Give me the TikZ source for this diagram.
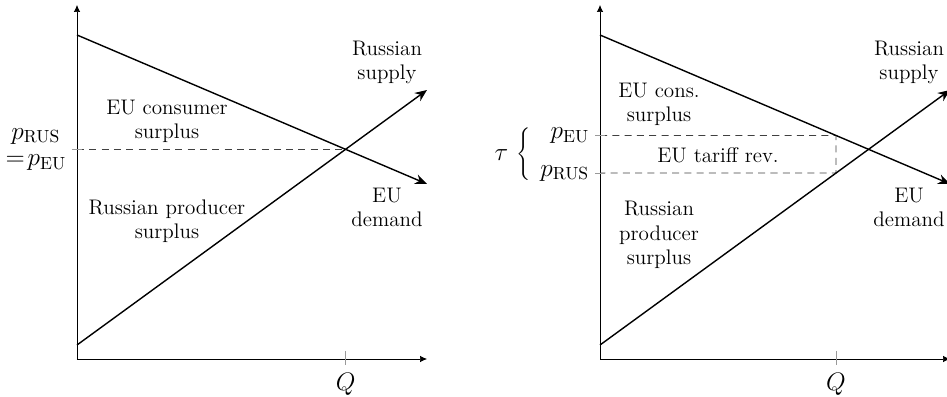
\documentclass[tikz,border=0pt]{standalone}
\usetikzlibrary{arrows.meta,positioning,calc}
\begin{document}
\begin{tikzpicture}[
	font=\fontsize{12}{13.8}\selectfont,
	axis/.style={-{Latex[length=1.4mm,width=1.3mm]},thin},
	curve/.style={-{Stealth[length=2.4mm,width=2mm]},thick},
	guide/.style={dash pattern=on 4pt off 3pt,thin,black!75},
	tick/.style={thin,black!40},
	lbl/.style={align=center,inner sep=1pt},
	mlbl/.style={font=\fontsize{13.7}{15}\selectfont,align=center,inner sep=1pt}
]
	\useasboundingbox (-1.54,-0.76) rectangle (17.40,7.18);
	
	% left panel: no tariff
	\coordinate (LO) at (0,0);
	\coordinate (LY) at (0,7.08);
	\coordinate (LX) at (7,0);
	\coordinate (LD1) at (0,6.48);
	\coordinate (LD2) at (7,3.5);
	\coordinate (LS1) at (0,0.28);
	\coordinate (LS2) at (7,5.38);
	\coordinate (LE) at (intersection of LD1--LD2 and LS1--LS2);
	\coordinate (LP) at (LO |- LE);
	\coordinate (LQ) at (LO -| LE);
	
	\draw[axis] (LO) -- (LY);
	\draw[axis] (LO) -- (LX);
	\draw[guide] (LP) -- (LE);
	\draw[curve] (LD1) -- (LD2);
	\draw[curve] (LS1) -- (LS2);
	
	% ticks
	\draw[tick] ($(LQ)+(0,0.16)$) -- ($(LQ)+(0,-0.12)$);
	\draw[tick] ($(LP)+(-0.1,0)$) -- ($(LP)+(0.1,0)$);
	
	\node[mlbl,left=5pt of LP] (Lprice) {$p_{\mathrm{RUS}}$\\$=\!p_{\mathrm{EU}}$};
	\node[mlbl,below=7pt of LQ] (LQlbl) {$Q$};
	
	\node[lbl] (Lsup) at (6.2,5.93) {Russian\\supply};
	\node[lbl] (Ldem) at (6.2,3.03) {EU\\demand};
	\node[lbl] (Lcs) at (1.8,4.76) {EU consumer\\surplus};
	\node[lbl] (Lps) at (1.8,2.76) {Russian producer\\surplus};
	
	% right panel: with tariff
	\begin{scope}[xshift=10.46cm]
		\coordinate (RO) at (0,0);
		\coordinate (RY) at (0,7.08);
		\coordinate (RX) at (7,0);
		\coordinate (RD1) at (0,6.48);
		\coordinate (RD2) at (7,3.5);
		\coordinate (RS1) at (0,0.28);
		\coordinate (RS2) at (7,5.38);
		\coordinate (RQ) at (4.72,0);
		\coordinate (RQtop) at (4.72,7);
		\coordinate (RA) at (intersection of RD1--RD2 and RQ--RQtop);
		\coordinate (RB) at (intersection of RS1--RS2 and RQ--RQtop);
		\coordinate (RPe) at (RO |- RA);
		\coordinate (RPr) at (RO |- RB);
		\coordinate (RPm) at ($(RPe)!0.5!(RPr)$);
		
		\draw[axis] (RO) -- (RY);
		\draw[axis] (RO) -- (RX);
		\draw[guide] (RPe) -- (RA) -- (RB) -- (RPr);
		\draw[curve] (RD1) -- (RD2);
		\draw[curve] (RS1) -- (RS2);
		
		% ticks
		\draw[tick] ($(RQ)+(0,0.16)$) -- ($(RQ)+(0,-0.12)$);
		\draw[tick] ($(RPe)+(-0.1,0)$) -- ($(RPe)+(0.1,0)$);
		\draw[tick] ($(RPr)+(-0.1,0)$) -- ($(RPr)+(0.1,0)$);
		
		\node[mlbl,left=5pt of RPe] (Rpeu) {$p_{\mathrm{EU}}$};
		\node[mlbl,left=5pt of RPr] (Rprus) {$p_{\mathrm{RUS}}$};
		\node[mlbl,left=1.3cm of RPm] (Rtau) {$\tau\,\left\{\vrule height 11pt depth 10pt width 0pt\right.$};
		\node[mlbl,below=7pt of RQ] (RQlbl) {$Q$};
		
		\node[lbl] (Rsup) at (6.18,5.93) {Russian\\supply};
		\node[lbl] (Rdem) at (6.18,3.03) {EU\\demand};
		\node[lbl] (Rcs) at (1.18,5.09) {EU cons.\\surplus};
		\node[lbl] (Rtr) at (2.36,4.08) {EU tariff rev.};
		\node[lbl] (Rps) at (1.18,2.48) {Russian\\producer\\surplus};
	\end{scope}
\end{tikzpicture}
\end{document}
